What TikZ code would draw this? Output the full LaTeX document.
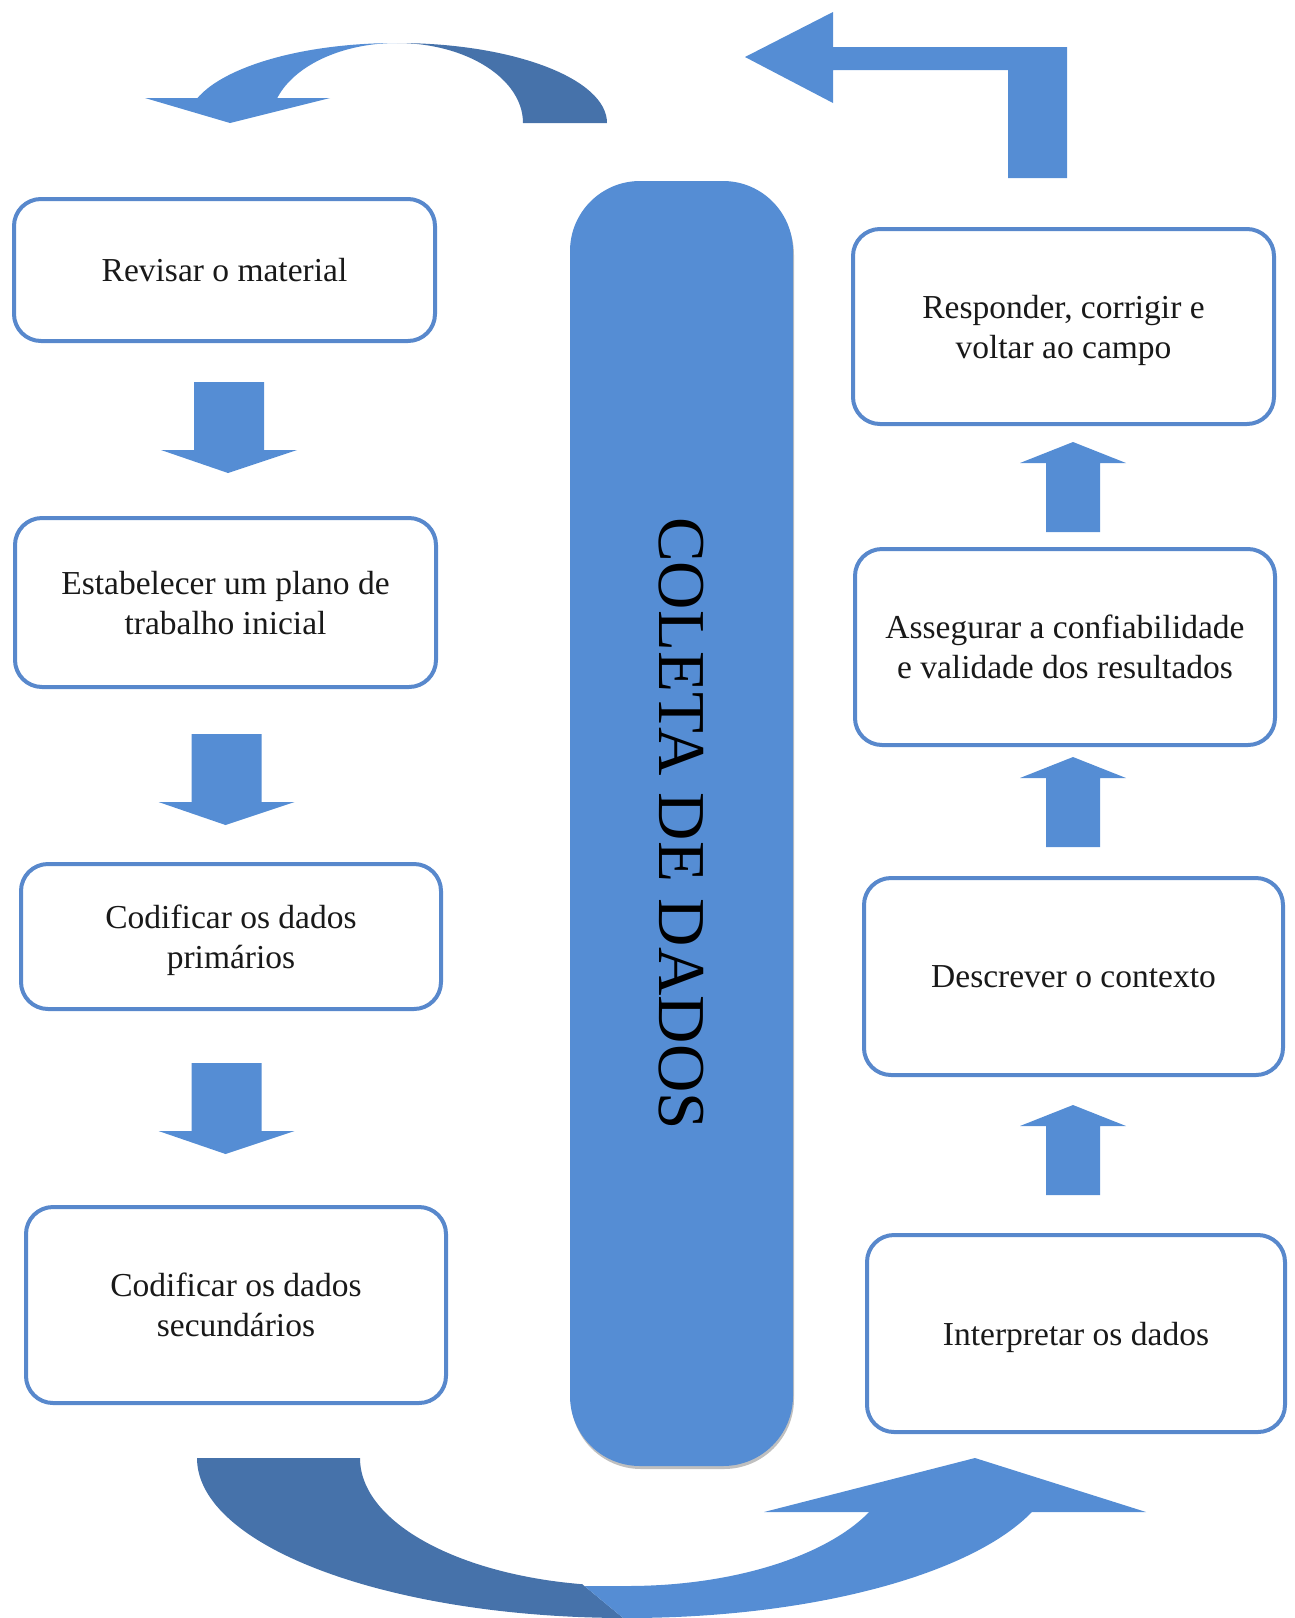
\documentclass[tikz,border=0pt]{standalone}
\usepackage{fontspec}
\setmainfont{Liberation Serif}
\definecolor{lightblue}{RGB}{85,141,212}
\definecolor{darkblue}{RGB}{70,114,170}
\definecolor{boxblue}{RGB}{88,136,204}
\tikzset{
  stagebox/.style={draw=boxblue, line width=2pt, rounded corners=13.5pt, fill=white,
    align=center, inner sep=0pt, text=black!90, text depth=0pt,
    font=\fontsize{16.75}{20}\selectfont},
  pill/.style={fill=lightblue, rounded corners=35pt, inner sep=0pt, text=black,
    font=\fontsize{33.5}{40}\selectfont},
  blockarrow/.style={fill=lightblue},
}
% down block arrow: #1 centre x, #2 top y
\newcommand{\downblock}[2]{%
  \fill[blockarrow] (#1-35,#2) -- (#1+35,#2) -- (#1+35,#2+68) -- (#1+68,#2+68)
    -- (#1-1,#2+91) -- (#1-68,#2+68) -- (#1-35,#2+68) -- cycle;}
% up block arrow: #1 centre x, #2 tip y
\newcommand{\upblock}[2]{%
  \fill[blockarrow] (#1,#2) -- (#1+53,#2+21) -- (#1+27,#2+21) -- (#1+27,#2+90)
    -- (#1-27,#2+90) -- (#1-27,#2+21) -- (#1-53,#2+21) -- cycle;}
\begin{document}
\begin{tikzpicture}[x=0.5pt,y=-0.5pt]
\useasboundingbox (0,0) rectangle (1295,1618);

% ---- left column boxes
\node[stagebox, minimum width=210.5pt, minimum height=71pt] (b1) at (224.5,270) {Revisar o material};
\node[stagebox, minimum width=210.5pt, minimum height=84.5pt] (b2) at (225.5,602.5) {Estabelecer um plano de\\trabalho inicial};
\node[stagebox, minimum width=210pt, minimum height=72.5pt] (b3) at (231,936.5) {Codificar os dados\\primários};
\node[stagebox, minimum width=210pt, minimum height=98pt] (b4) at (236,1305) {Codificar os dados\\secundários};

% ---- right column boxes
\node[stagebox, minimum width=210.5pt, minimum height=97.5pt] (r1) at (1063.5,326.5) {Responder, corrigir e\\voltar ao campo};
\node[stagebox, minimum width=210pt, minimum height=98pt] (r2) at (1065,647) {Assegurar a confiabilidade\\e validade dos resultados};
\node[stagebox, minimum width=209.5pt, minimum height=98.5pt] (r3) at (1073.5,976.5) {Descrever o contexto};
\node[stagebox, minimum width=209pt, minimum height=98.5pt] (r4) at (1076,1333.5) {Interpretar os dados};

% ---- central pill
\fill[black, opacity=0.25, rounded corners=35pt] (571,185) rectangle (794,1469);
\node[pill, rotate=-90, minimum width=642.5pt, minimum height=111.5pt] (coleta) at (681.5,823.5) {COLETA DE DADOS};

% ---- down arrows (left)
\downblock{229}{382}
\downblock{226.5}{734}
\downblock{226.5}{1063}

% ---- up arrows (right)
\upblock{1073}{442}
\upblock{1073}{757}
\upblock{1073}{1105}

% ---- top-left curved arrow
\fill[darkblue] (397,43) .. controls (513,43) and (607,78.8) .. (607,123)
  -- (523,123) .. controls (523,78.8) and (466.6,43) .. (397,43) -- cycle;
\begin{scope}
  \clip (100,0) rectangle (398,98);
  \fill[lightblue] (397,43) .. controls (281,43) and (187,78.8) .. (187,123)
    -- (271,123) .. controls (271,78.8) and (327.4,43) .. (397,43) -- cycle;
\end{scope}
\fill[lightblue] (145,98) -- (330,98) -- (230,123) -- cycle;

% ---- top-right bent arrow
\fill[lightblue] (745,57) -- (833,12) -- (833,47) -- (1067,47) -- (1067,178)
  -- (1008,178) -- (1008,70) -- (833,70) -- (833,103) -- cycle;

% ---- bottom curved arrow
\begin{scope}
  \clip (150,1400) -- (582,1400) -- (582,1584) -- (628,1622) -- (150,1622) -- cycle;
  \fill[darkblue] (197,1458) .. controls (197,1546.4) and (389.5,1618) .. (627,1618)
    .. controls (660,1618) and (660,1586) .. (627,1586)
    .. controls (479.5,1586) and (360,1528.7) .. (360,1458) -- cycle;
\end{scope}
\begin{scope}
  \clip (560,1512) -- (1200,1512) -- (1200,1622) -- (628,1622) -- (582,1584) -- (560,1584) -- cycle;
  \fill[lightblue] (520,1618) -- (627,1618) .. controls (864.5,1618) and (1057,1546.4) .. (1057,1458)
    -- (894,1458) .. controls (894,1528.7) and (774.5,1586) .. (627,1586) -- (520,1586) -- cycle;
\end{scope}
\fill[lightblue] (764,1512) -- (975,1458) -- (1146,1512) -- cycle;
\end{tikzpicture}
\end{document}
